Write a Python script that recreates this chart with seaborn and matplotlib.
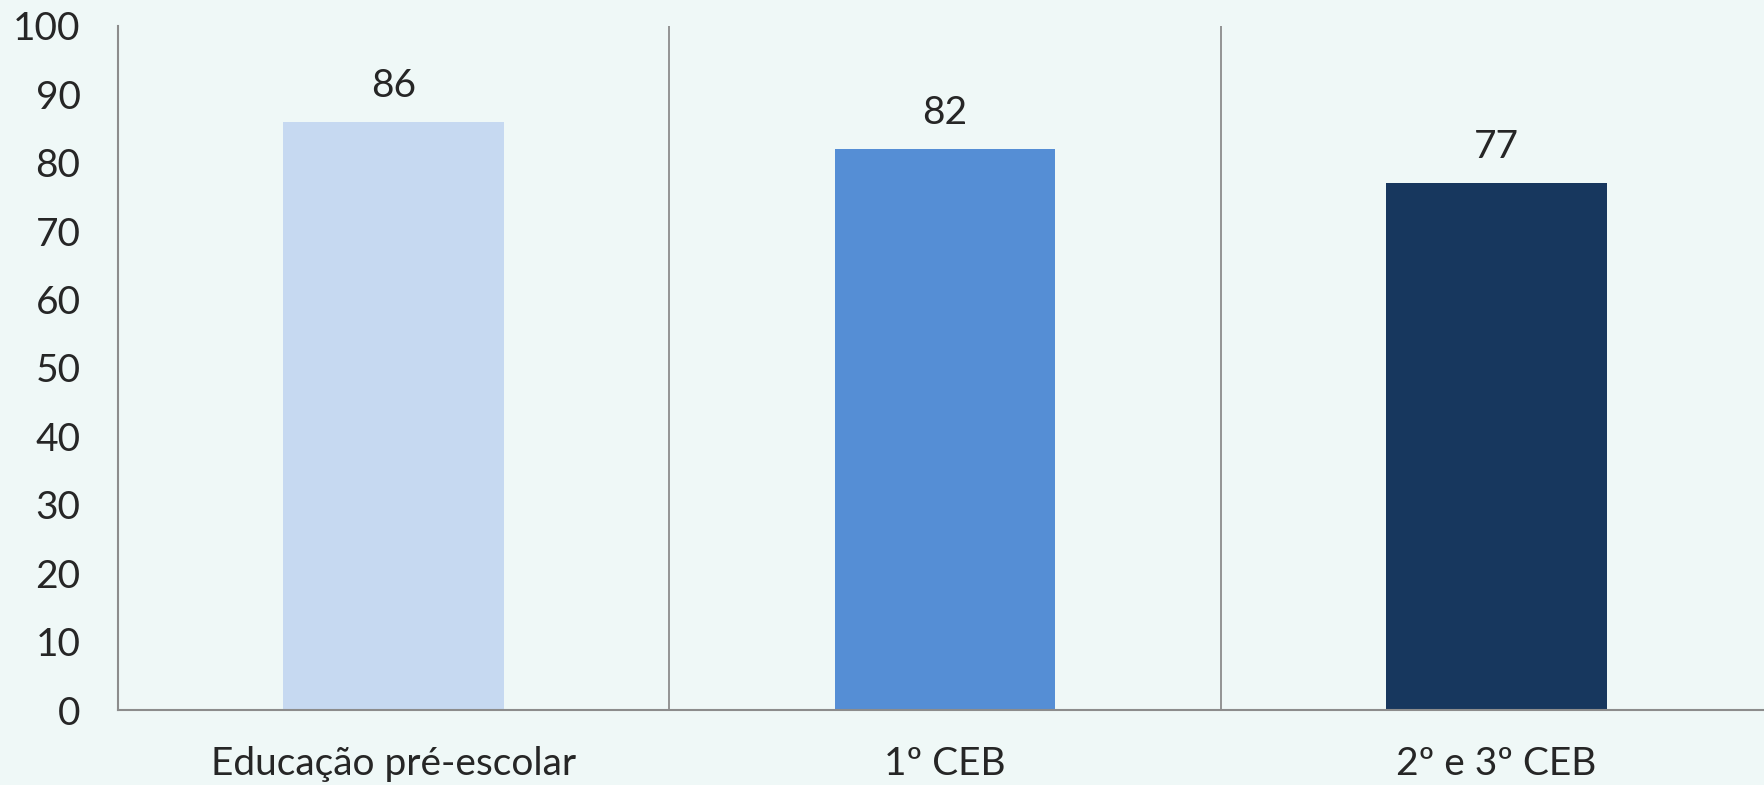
import matplotlib
matplotlib.use("Agg")
import matplotlib.pyplot as plt
import pandas as pd
import seaborn as sns

categories = ["Educação pré-escolar", "1º CEB", "2º e 3º CEB"]
values = [86, 82, 77]
bar_colors = ["#C6D9F1", "#558ED5", "#17375E"]

BG = "#EFF8F7"
GRID = "#8C8C8C"

sns.set_theme(style="white")
plt.rcParams["font.family"] = ["Lato", "DejaVu Sans"]

df = pd.DataFrame({"nivel": categories, "valor": values})

fig = plt.figure(figsize=(17.64, 7.85), dpi=100, facecolor=BG)
ax = fig.add_axes([0.0669, 0.0955, 0.9376, 0.8715])
ax.set_facecolor(BG)

sns.barplot(data=df, x="nivel", y="valor", hue="nivel", palette=bar_colors,
            legend=False, width=0.4, saturation=1, linewidth=0, ax=ax)

ax.set_xlim(-0.5, 2.5)
ax.set_ylim(0, 100)
ax.set_yticks(range(0, 101, 10))
ax.set_xlabel("")
ax.set_ylabel("")

# category separators like the spreadsheet chart
ax.set_xticks([0.5, 1.5], minor=True)
ax.grid(axis="x", which="minor", color=GRID, linewidth=1.3)
ax.grid(axis="y", visible=False)
ax.tick_params(axis="both", which="both", length=0)
ax.tick_params(axis="y", labelsize=28, pad=27)
ax.tick_params(axis="x", labelsize=28, pad=26)

for side in ["top", "right"]:
    ax.spines[side].set_visible(False)
for side in ["left", "bottom"]:
    ax.spines[side].set_color(GRID)
    ax.spines[side].set_linewidth(1.5)

for container in ax.containers:
    ax.bar_label(container, fmt="%d", padding=13, fontsize=28)

fig.savefig("out.png", dpi=100, facecolor=BG)
